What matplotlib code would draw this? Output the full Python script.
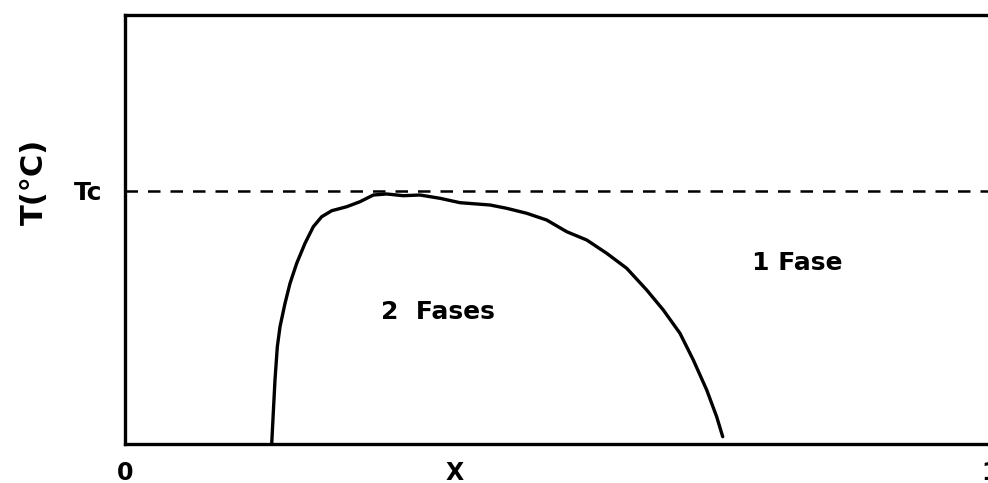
import matplotlib
matplotlib.use("Agg")
import matplotlib.pyplot as plt

# Data: composition X vs temperature (normalised)
curve_x = [0.1696, 0.1714, 0.1734, 0.1761, 0.1792, 0.1850, 0.1908, 0.1985, 0.2081,
           0.2177, 0.2274, 0.2390, 0.2563, 0.2717, 0.2871, 0.3025, 0.3217, 0.3410,
           0.3642, 0.3873, 0.4220, 0.4413, 0.4644, 0.4875, 0.5106, 0.5338, 0.5569,
           0.5800, 0.6031, 0.6223, 0.6416, 0.6570, 0.6725, 0.6840, 0.6910]
curve_y = [0.0, 0.0716, 0.1492, 0.2268, 0.2734, 0.3280, 0.3746, 0.4212, 0.4678,
           0.5065, 0.5298, 0.5438, 0.5531, 0.5648, 0.5804, 0.5828, 0.5788, 0.5804,
           0.5727, 0.5625, 0.5571, 0.5494, 0.5378, 0.5221, 0.4949, 0.4755, 0.4445,
           0.4096, 0.3590, 0.3124, 0.2580, 0.1958, 0.1259, 0.0636, 0.0170]
Tc = 0.59
x_ticks = [0.0, 0.3815, 1.0]
x_tick_labels = ["0", "X", "1"]
y_label = "T(°C)"
tc_label = "Tc"
region_labels = ["2  Fases", "1 Fase"]
region_pos = [(0.3613, 0.3077), (0.7775, 0.4219)]

fig = plt.figure(figsize=(9.88, 4.83), dpi=100)
ax = fig.add_axes([125/988, 39/483, 865/988, 429/483])

ax.plot(curve_x, curve_y, color="black", lw=2.4, solid_capstyle="round",
        solid_joinstyle="round")
ax.axhline(Tc, color="black", lw=1.8, ls=(0, (5, 4)))

ax.set_xlim(0, 1)
ax.set_ylim(0, 1)

for s in ["left", "top", "bottom"]:
    ax.spines[s].set_linewidth(2.4)
ax.spines["right"].set_visible(False)

ax.set_xticks(x_ticks)
ax.set_xticklabels(x_tick_labels, fontsize=17, fontweight="bold")
ax.set_yticks([Tc])
ax.set_yticklabels([tc_label], fontsize=18, fontweight="bold")
ax.tick_params(axis="x", length=0, pad=12)
ax.tick_params(axis="y", length=0, pad=16)

ax.set_ylabel(y_label, fontsize=22, fontweight="bold")
ax.yaxis.set_label_coords(-0.088, 0.611)

for lab, (px, py) in zip(region_labels, region_pos):
    ax.text(px, py, lab, fontsize=18, fontweight="bold", ha="center", va="center")

fig.savefig("out.png", dpi=100)
